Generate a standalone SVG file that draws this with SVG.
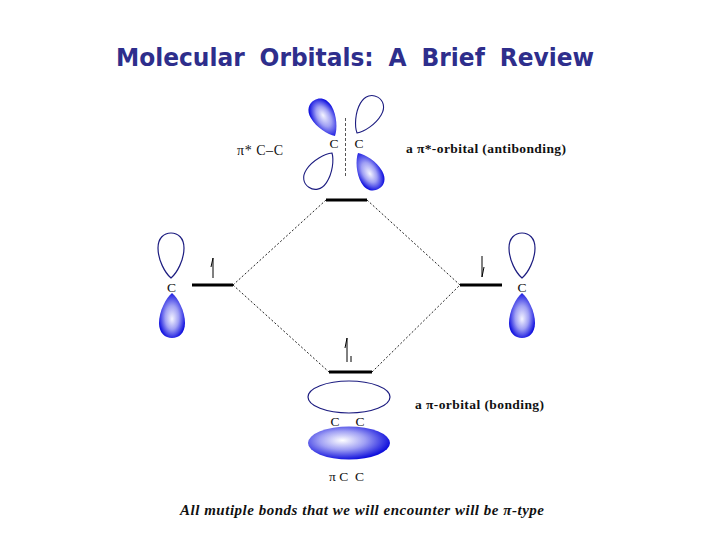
<svg xmlns="http://www.w3.org/2000/svg" width="720" height="540" viewBox="0 0 720 540">
<style>
.lbl{font-family:"Liberation Serif","Times New Roman",serif;fill:#111}
.c{font-size:13.500px;text-anchor:middle}
.b{font-weight:bold;font-size:13.500px}
.out{fill:#fff;stroke:#1c1c80;stroke-width:1.200}
.fill{fill:url(#lobe)}
.fille{fill:url(#ell)}
.lvl{stroke:#000;stroke-width:3.200;fill:none}
.dot{stroke:#222;stroke-width:1;stroke-dasharray:2 2;fill:none}
.spin{stroke:#000;stroke-width:1;fill:none}
</style>
<defs>
<path id="up" d="M0,0C-6,-5 -13,-18 -13,-30C-13,-40 -7,-45 0,-45C7,-45 13,-40 13,-30C13,-18 6,-5 0,0Z"/>
<radialGradient id="lobe" cx="0.5" cy="0.5" r="0.58" fx="0.5" fy="0.42">
<stop offset="0" stop-color="#f4f4ff"/><stop offset="0.45" stop-color="#a0a0f4"/><stop offset="0.9" stop-color="#1414e0"/><stop offset="1" stop-color="#1010d8"/>
</radialGradient>
<radialGradient id="ell" cx="0.42" cy="0.42" r="0.62">
<stop offset="0" stop-color="#ffffff"/><stop offset="0.45" stop-color="#a0a0f4"/><stop offset="0.95" stop-color="#1010dc"/>
</radialGradient>
</defs>
<rect width="720" height="540" fill="#fff"/>
<text id="title" x="116" y="66" textLength="478" lengthAdjust="spacingAndGlyphs" style="font-family:'DejaVu Sans',sans-serif;font-size:24px;font-weight:bold;word-spacing:7px;fill:#2e2e8c">Molecular Orbitals: A Brief Review</text>
<g id="connectors">
<path class="dot" d="M233,285L326,200M367,200L460,285M233,285L329,372M372,372L460,285"/>
<path d="M345.500,118V176" stroke="#555" stroke-width="1" stroke-dasharray="3 2" fill="none"/>
</g>
<g id="level-antibonding"><path class="lvl" d="M326,200H367"/></g>
<g id="level-left"><path class="lvl" d="M192,285H233"/>
<path class="spin" d="M213,278V258L211,267"/></g>
<g id="level-right"><path class="lvl" d="M460,285H502"/>
<path class="spin" d="M482,256V277L484,267"/></g>
<g id="level-bonding"><path class="lvl" d="M329,372H372"/>
<path class="spin" d="M347,362V338L345,348M351,356V362"/></g>
<g id="orbital-antibonding">
<use href="#up" class="fill" transform="translate(335,136) rotate(-30) scale(.92,.92)"/>
<use href="#up" class="out" transform="translate(357,133) rotate(30) scale(.92,.92)"/>
<use href="#up" class="out" transform="translate(332,153) rotate(214) scale(.92,.92)"/>
<use href="#up" class="fill" transform="translate(358,153) rotate(150) scale(.92,.92)"/>
<text class="lbl c" x="334" y="148">C</text>
<text class="lbl c" x="359" y="148">C</text>
</g>
<g id="orbital-left">
<use href="#up" class="out" transform="translate(171,278)"/>
<use href="#up" class="fill" transform="translate(172,293) rotate(180)"/>
<text class="lbl c" x="171.500" y="292">C</text>
</g>
<g id="orbital-right">
<use href="#up" class="out" transform="translate(522,278)"/>
<use href="#up" class="fill" transform="translate(522,293) rotate(180)"/>
<text class="lbl c" x="522" y="292">C</text>
</g>
<g id="orbital-bonding">
<ellipse class="out" cx="349" cy="397" rx="41" ry="16"/>
<ellipse class="fille" cx="349" cy="443" rx="41" ry="16.500"/>
<text class="lbl c" x="335" y="426">C</text>
<text class="lbl c" x="360" y="426">C</text>
</g>
<g id="labels">
<text class="lbl" x="237" y="155" textLength="46" style="font-size:14px">π* C–C</text>
<text class="lbl b" x="406" y="153" textLength="160">a π*-orbital (antibonding)</text>
<text class="lbl b" x="415" y="409" textLength="129">a π-orbital (bonding)</text>
<text class="lbl" x="329" y="481" style="font-size:13.500px" xml:space="preserve">π C  C</text>
<text class="lbl" x="180" y="515" textLength="364" style="font-size:15px;font-weight:bold;font-style:italic">All mutiple bonds that we will encounter will be π-type</text>
</g>
</svg>
